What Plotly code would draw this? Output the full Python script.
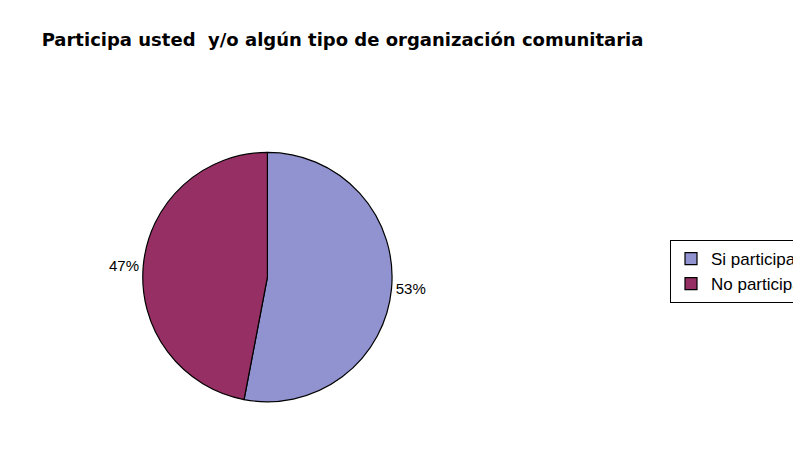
import plotly.graph_objects as go

categories = ["Si participa", "No participa"]
values = [53, 47]
colors = ["#9192D0", "#963064"]
title_text = "Participa usted  y/o algún tipo de organización comunitaria"

fig = go.Figure(go.Pie(
    labels=categories,
    values=values,
    sort=False,
    direction="clockwise",
    rotation=0,
    marker=dict(colors=colors, line=dict(color="black", width=1.2)),
    textposition="outside",
    texttemplate="%{percent:.0%}",
    textfont=dict(family="Liberation Sans, Arial", size=15, color="black"),
    hoverinfo="label+percent",
    domain=dict(x=[0.079, 0.554], y=[0.155, 0.69]),
))

fig.update_layout(
    width=801, height=466,
    margin=dict(l=0, r=0, t=0, b=0),
    paper_bgcolor="white",
    plot_bgcolor="white",
    title=dict(text="<b>" + title_text + "</b>", x=0.042, xanchor="left", y=0.932, yanchor="middle",
               font=dict(family="DejaVu Sans", size=18, color="black")),
    showlegend=True,
    legend=dict(x=0.87, xanchor="left", y=0.502, yanchor="top",
                bordercolor="black", borderwidth=1, bgcolor="white",
                font=dict(family="Liberation Sans, Arial", size=17, color="black"),
                itemwidth=30),
)

fig.write_html("out.html")
